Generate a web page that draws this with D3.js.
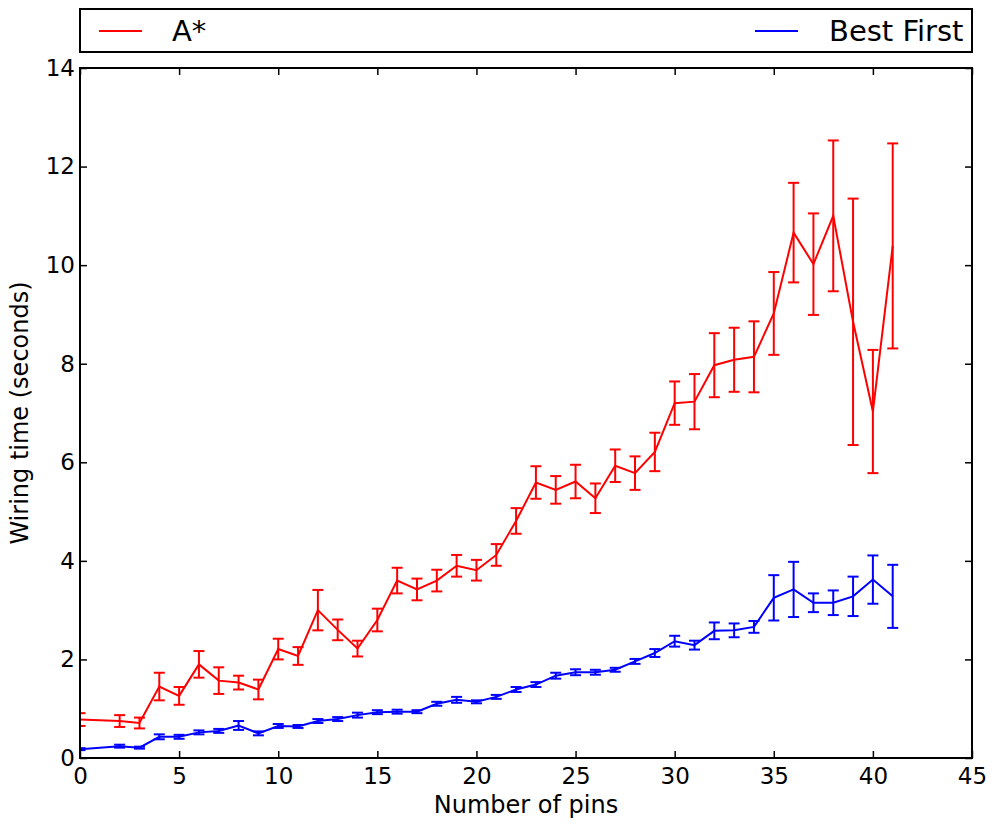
<!DOCTYPE html>
<html>
<head>
<meta charset="utf-8">
<script src="https://cdn.jsdelivr.net/npm/d3@7"></script>
<style>
  html, body { margin: 0; padding: 0; background: #fff; }
  svg { display: block; font-family: "DejaVu Sans", sans-serif; }
</style>
</head>
<body>
<svg id="chart" width="994" height="825"></svg>
<script>
// Number of pins on each net
const pins = [0,2,3,4,5,6,7,8,9,10,11,12,13,14,15,16,17,18,19,20,21,22,23,24,25,26,27,28,29,30,31,32,33,34,35,36,37,38,39,40,41];

// A* wiring time (seconds) and its error
const astar = [0.78,0.75,0.71,1.45,1.26,1.90,1.57,1.53,1.39,2.21,2.07,3.00,2.60,2.22,2.80,3.60,3.42,3.60,3.90,3.81,4.12,4.81,5.59,5.44,5.61,5.27,5.93,5.78,6.21,7.20,7.23,7.97,8.08,8.14,9.02,10.66,10.02,11.00,8.85,7.03,10.39];
const astarErr = [0.13,0.12,0.11,0.28,0.18,0.27,0.27,0.14,0.20,0.21,0.18,0.41,0.21,0.16,0.23,0.26,0.22,0.22,0.22,0.21,0.22,0.26,0.33,0.28,0.34,0.30,0.33,0.34,0.39,0.44,0.56,0.65,0.65,0.72,0.84,1.01,1.03,1.53,2.50,1.25,2.08];

// Best First wiring time (seconds) and its error
const bestFirst = [0.18,0.24,0.21,0.43,0.43,0.52,0.55,0.66,0.50,0.65,0.64,0.75,0.79,0.87,0.93,0.94,0.94,1.10,1.18,1.14,1.24,1.39,1.49,1.67,1.74,1.74,1.79,1.96,2.13,2.37,2.29,2.58,2.59,2.66,3.25,3.42,3.15,3.15,3.28,3.62,3.28];
const bestFirstErr = [0.02,0.03,0.02,0.05,0.04,0.04,0.04,0.09,0.04,0.04,0.03,0.04,0.04,0.05,0.04,0.04,0.03,0.04,0.06,0.03,0.04,0.05,0.05,0.06,0.06,0.05,0.04,0.05,0.08,0.11,0.09,0.17,0.14,0.12,0.46,0.56,0.19,0.25,0.40,0.49,0.64];

const xTicks = [0,5,10,15,20,25,30,35,40,45];
const yTicks = [0,2,4,6,8,10,12,14];

const seriesNames = ["A*", "Best First"];
const seriesColors = ["#ff0000", "#0000ff"];

const svg = d3.select("#chart");
const plotL = 80, plotR = 972, plotT = 68, plotB = 758;

const x = d3.scaleLinear().domain([0, 45]).range([plotL, plotR]);
const y = d3.scaleLinear().domain([0, 14]).range([plotB, plotT]);

svg.append("defs").append("clipPath").attr("id", "plotClip")
  .append("rect").attr("x", plotL).attr("y", plotT)
  .attr("width", plotR - plotL).attr("height", plotB - plotT);

const plot = svg.append("g").attr("clip-path", "url(#plotClip)");

const series = [
  { vals: astar, errs: astarErr, color: seriesColors[0] },
  { vals: bestFirst, errs: bestFirstErr, color: seriesColors[1] }
];

const capHalf = 5.5;
series.forEach(s => {
  const pts = pins.map((p, i) => ({ x: p, y: s.vals[i], e: s.errs[i] }));
  const line = d3.line().x(d => x(d.x)).y(d => y(d.y));
  plot.append("path").datum(pts)
    .attr("d", line).attr("fill", "none")
    .attr("stroke", s.color).attr("stroke-width", 2)
    .attr("stroke-linejoin", "miter");
  const eb = plot.append("g").attr("stroke", s.color).attr("stroke-width", 2);
  pts.forEach(d => {
    const cx = x(d.x), y1 = y(d.y + d.e), y2 = y(d.y - d.e);
    eb.append("line").attr("x1", cx).attr("x2", cx).attr("y1", y1).attr("y2", y2);
    eb.append("line").attr("x1", cx - capHalf).attr("x2", cx + capHalf).attr("y1", y1).attr("y2", y1);
    eb.append("line").attr("x1", cx - capHalf).attr("x2", cx + capHalf).attr("y1", y2).attr("y2", y2);
  });
});

// Axes with inward ticks on all four sides
const tickLen = 7;
const axB = svg.append("g").attr("transform", `translate(0,${plotB})`)
  .call(d3.axisBottom(x).tickValues(xTicks).tickSizeInner(-tickLen).tickSizeOuter(0).tickPadding(10).tickFormat(d3.format("d")));
const axT = svg.append("g").attr("transform", `translate(0,${plotT})`)
  .call(d3.axisTop(x).tickValues(xTicks).tickSizeInner(-tickLen).tickSizeOuter(0).tickFormat(""));
const axL = svg.append("g").attr("transform", `translate(${plotL},0)`)
  .call(d3.axisLeft(y).tickValues(yTicks).tickSizeInner(-tickLen).tickSizeOuter(0).tickPadding(5).tickFormat(d3.format("d")));
const axR = svg.append("g").attr("transform", `translate(${plotR},0)`)
  .call(d3.axisRight(y).tickValues(yTicks).tickSizeInner(-tickLen).tickSizeOuter(0).tickFormat(""));

[axB, axT, axL, axR].forEach(a => {
  a.select(".domain").remove();
  a.selectAll(".tick line").attr("stroke", "#000").attr("stroke-width", 1.5);
  a.selectAll(".tick text").attr("fill", "#000")
    .style("font-family", "'DejaVu Sans', sans-serif").style("font-size", "23px");
});

// Frame
svg.append("rect").attr("x", plotL).attr("y", plotT)
  .attr("width", plotR - plotL).attr("height", plotB - plotT)
  .attr("fill", "none").attr("stroke", "#000").attr("stroke-width", 2);

// Axis labels
svg.append("text").attr("x", (plotL + plotR) / 2).attr("y", 813)
  .attr("text-anchor", "middle").style("font-size", "24px").attr("fill", "#000")
  .text("Number of pins");
svg.append("text")
  .attr("transform", `translate(28,${(plotT + plotB) / 2}) rotate(-90)`)
  .attr("text-anchor", "middle").style("font-size", "24px").attr("fill", "#000")
  .text("Wiring time (seconds)");

// Legend box above the plot
const legend = svg.append("g");
legend.append("rect").attr("x", plotL).attr("y", 9)
  .attr("width", plotR - plotL).attr("height", 43)
  .attr("fill", "#fff").attr("stroke", "#000").attr("stroke-width", 2);
const legendItems = [
  { name: seriesNames[0], color: seriesColors[0], lx: 99, tx: 172 },
  { name: seriesNames[1], color: seriesColors[1], lx: 755, tx: 829 }
];
legendItems.forEach(it => {
  legend.append("line").attr("x1", it.lx).attr("x2", it.lx + 43)
    .attr("y1", 31).attr("y2", 31).attr("stroke", it.color).attr("stroke-width", 2);
  legend.append("text").attr("x", it.tx).attr("y", 41)
    .style("font-size", "29px").attr("fill", "#000").text(it.name);
});
</script>
</body>
</html>
